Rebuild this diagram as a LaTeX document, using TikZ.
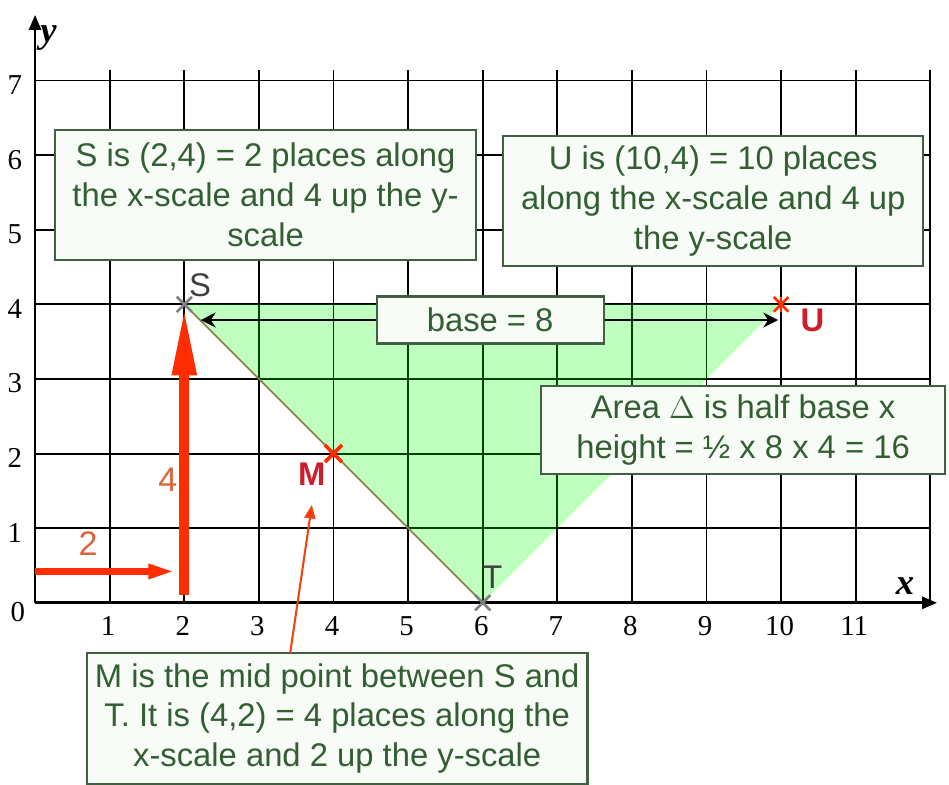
\documentclass[tikz,border=0pt]{standalone}
\usepackage{fontspec}
\setmainfont{Liberation Serif}
\setsansfont{Liberation Sans}
\usetikzlibrary{arrows.meta,shapes.misc}
\definecolor{vertnote}{RGB}{50,95,50}
\definecolor{cadre}{RGB}{65,95,65}
\definecolor{fondnote}{RGB}{248,252,246}
\definecolor{rougevif}{RGB}{255,45,0}
\definecolor{rougelbl}{RGB}{205,30,45}
\definecolor{orangelbl}{RGB}{220,100,60}
\definecolor{olive}{RGB}{140,120,70}
\tikzset{
  grille/.style={black,line width=0.7pt},
  axe/.style={black,line width=1pt,-{Triangle[length=0.2cm,width=0.16cm]}},
  note/.style={draw=cadre,fill=fondnote,line width=0.8pt,align=center,inner sep=0pt,
    font=\sffamily\fontsize{12.5}{15.2}\selectfont,text=vertnote},
  num/.style={font=\fontsize{11}{13}\selectfont},
  pt/.style={font=\sffamily\fontsize{12.5}{15}\selectfont,text=black!75},
  ptr/.style={font=\sffamily\bfseries\fontsize{12.5}{15}\selectfont,text=rougelbl},
  pas/.style={font=\sffamily\fontsize{13}{15}\selectfont,text=orangelbl},
  croix/.style={cross out,draw=gray,line width=1pt,minimum size=0.17cm,inner sep=0pt},
  croixr/.style={cross out,draw=rougevif,line width=1.4pt,minimum size=0.18cm,inner sep=0pt},
  fl/.style={black,line width=0.8pt,{Stealth[length=0.2cm,width=0.2cm]}-{Stealth[length=0.2cm,width=0.2cm]}},
}
\begin{document}
\begin{tikzpicture}
  \useasboundingbox (-0.47,-2.44) rectangle (12.25,8.08);
  % grid and axes
  \foreach \k in {1,...,7}
    \draw[grille] (0,\k) -- (12,\k);
  \foreach \k in {1,...,12}
    \draw[grille] (\k,0) -- (\k,7.14);
  \coordinate (O) at (0,0);
  \coordinate (xfin) at (12.09,0);
  \coordinate (yfin) at (0,7.88);
  \draw[axe] (O) -- (xfin);
  \draw[axe] (O) -- (yfin);
  \foreach \k in {1,...,11}
    \node[num] (nx\k) at (\k-0.02,-0.31) {\k};
  \foreach \k in {1,...,7}
    \node[num] (ny\k) at (-0.27,\k-0.06) {\k};
  \node[num] (ny0) at (-0.23,-0.13) {0};
  \node[font=\bfseries\itshape\fontsize{14}{16}\selectfont] (lx) at (11.66,0.22) {x};
  \node[font=\bfseries\itshape\fontsize{14}{16}\selectfont] (ly) at (0.18,7.57) {y};
  % points
  \coordinate (S) at (2,4);
  \coordinate (T) at (6,0);
  \coordinate (M) at (4,2);
  \coordinate (U) at (10,4);
  \fill[green,fill opacity=0.25] (S) -- (T) -- (U) -- cycle;
  \draw[olive,line width=0.6pt] (S) -- (T);
  % red steps
  \coordinate (h0) at (0,0.42);
  \coordinate (h1) at (1.88,0.42);
  \coordinate (v0) at (2,0.1);
  \coordinate (v1) at (2,3.97);
  \draw[rougevif,line width=2.7pt,-{Triangle[length=0.36cm,width=0.18cm]}] (h0) -- (h1);
  \draw[rougevif,line width=3.8pt,-{Triangle[length=0.92cm,width=0.3cm]}] (v0) -- (v1);
  \node[pas] (pas2) at (0.71,0.8) {2};
  \node[pas] (pas4) at (1.78,1.65) {4};
  % base
  \coordinate (bg) at (2.22,3.79);
  \coordinate (bd) at (9.96,3.79);
  \draw[fl] (bg) -- (bd);
  \node[note,minimum width=3.04cm,minimum height=0.63cm] (base) at (6.1,3.79) {base = 8};
  % notes
  \node[note,minimum width=5.64cm,minimum height=1.74cm] (noteS) at (3.09,5.47)
    {S is (2,4) = 2 places along\\the x-scale and 4 up the y-\\scale};
  \node[note,minimum width=5.63cm,minimum height=1.74cm] (noteU) at (9.09,5.39)
    {U is (10,4) = 10 places\\along the x-scale and 4 up\\the y-scale};
  \node[note,minimum width=5.42cm,minimum height=1.18cm] (aire) at (9.49,2.32)
    {Area $\Delta$ is half base x\\height = ½ x 8 x 4 = 16};
  \node[note,minimum width=6.71cm,minimum height=1.76cm] (noteM) at (4.05,-1.55)
    {M is the mid point between S and\\T. It is (4,2) = 4 places along the\\x-scale and 2 up the y-scale};
  \coordinate (m0) at (3.42,-0.67);
  \coordinate (m1) at (3.71,1.31);
  \draw[rougevif!70!brown,line width=0.8pt,-{Triangle[length=0.18cm,width=0.15cm,fill=rougevif]}] (m0) -- (m1);
  % markers
  \node[croix] (xS) at (S) {};
  \node[croix] (xT) at (T) {};
  \node[croixr] (xM) at (M) {};
  \node[croixr,line width=1pt,minimum size=0.16cm] (xU) at (U) {};
  \draw[rougevif,line width=1pt] (xU.north) -- (xU.south);
  \node[pt] (lS) at (2.21,4.26) {S};
  \node[pt] (lT) at (6.13,0.34) {T};
  \node[ptr] (lM) at (3.71,1.72) {M};
  \node[ptr] (lU) at (10.42,3.79) {U};
\end{tikzpicture}
\end{document}
